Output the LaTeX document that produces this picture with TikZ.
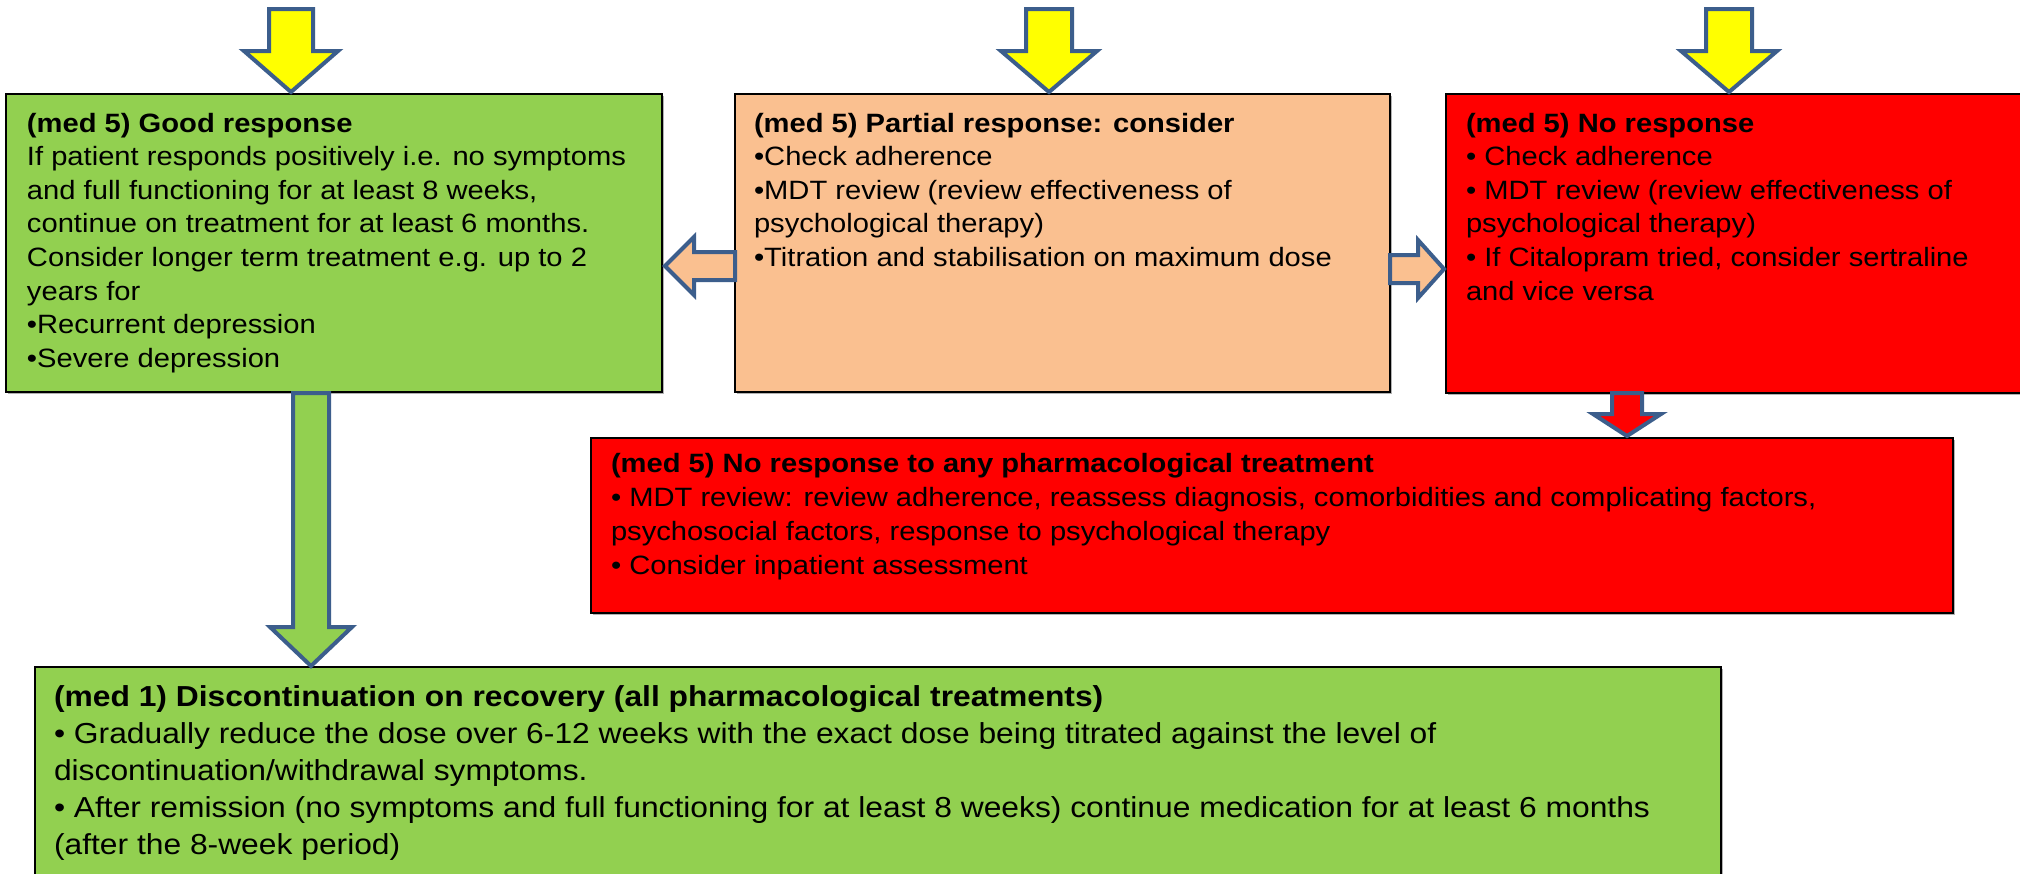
\documentclass[tikz,border=0pt]{standalone}
\usepackage{fontspec}
\setmainfont[FakeStretch=1.1]{Liberation Sans}
\usetikzlibrary{shadows}
\definecolor{gfill}{RGB}{146,208,80}
\definecolor{ofill}{RGB}{250,192,144}
\definecolor{rfill}{RGB}{255,0,0}
\definecolor{yfill}{RGB}{255,255,0}
\definecolor{abl}{RGB}{60,94,140}
\newcommand\firstln{\rule{0pt}{24pt}}
\begin{document}
\begin{tikzpicture}[x=1pt,y=-1pt,
  boxstyle/.style={draw=black, line width=1.3pt, anchor=north west, inner sep=0pt, outer sep=0pt,
    drop shadow={shadow xshift=2pt,shadow yshift=-2pt,fill=black!60,opacity=0.5}},
  blockarrow/.style={draw=abl, line width=4pt, line join=miter, miter limit=10},
  txt/.style={anchor=north west, inner sep=0pt, outer sep=0pt, align=left, font=\fontsize{26.5}{33.6}\selectfont},
  txtbig/.style={txt, font=\fontsize{28.9}{37}\selectfont}]
\useasboundingbox (0,0) rectangle (2020,873);
\clip (0,0) rectangle (2020,873);
\fill[white] (0,0) rectangle (2020,873);

% boxes
\node[boxstyle, fill=gfill, minimum width=656pt, minimum height=298pt] (b1) at (6,94) {};
\node[boxstyle, fill=ofill, minimum width=655pt, minimum height=298pt] (b2) at (735,94) {};
\node[boxstyle, fill=rfill, minimum width=590pt, minimum height=299pt] (b3) at (1446,94) {};
\node[boxstyle, fill=rfill, minimum width=1362pt, minimum height=175pt] (b4) at (591,438) {};
\node[boxstyle, fill=gfill, minimum width=1686pt, minimum height=220pt] (b5) at (35,667) {};

% texts
\node[txt] (t1) at (27,132-24) {\firstln\textbf{(med 5) Good response}\\
If patient responds positively i.e. no symptoms\\
and full functioning for at least 8 weeks,\\
continue on treatment for at least 6 months.\\
Consider longer term treatment e.g. up to 2\\
years for\\
•Recurrent depression\\
•Severe depression};

\node[txt] (t2) at (754,132-24) {\firstln\textbf{(med 5) Partial response: consider}\\
•Check adherence\\
•MDT review (review effectiveness of\\
psychological therapy)\\
•Titration and stabilisation on maximum dose};

\node[txt] (t3) at (1466,132-24) {\firstln\textbf{(med 5) No response}\\
• Check adherence\\
• MDT review (review effectiveness of\\
psychological therapy)\\
• If Citalopram tried, consider sertraline\\
and vice versa};

\node[txt, font=\fontsize{26.5}{34}\selectfont] (t4) at (611,472-24) {\firstln\textbf{(med 5) No response to any pharmacological treatment}\\
• MDT review: review adherence, reassess diagnosis, comorbidities and complicating factors,\\
psychosocial factors, response to psychological therapy\\
• Consider inpatient assessment};

\node[txtbig] (t5) at (54,706-24) {\firstln\textbf{(med 1) Discontinuation on recovery (all pharmacological treatments)}\\
• Gradually reduce the dose over 6-12 weeks with the exact dose being titrated against the level of\\
discontinuation/withdrawal symptoms.\\
• After remission (no symptoms and full functioning for at least 8 weeks) continue medication for at least 6 months\\
(after the 8-week period)};

% yellow input arrows (free tails)
\coordinate (y1) at (291,9);
\coordinate (y2) at (1049,9);
\coordinate (y3) at (1729,9);
\draw[blockarrow, fill=yfill] (y1) ++(-22,0) -- ++(44,0) -- ++(0,42) -- ++(25,0) -- (291,92) -- (291-47,51) -- ++(25,0) -- cycle;
\draw[blockarrow, fill=yfill] (y2) ++(-23,0) -- ++(46,0) -- ++(0,42) -- ++(25,0) -- (1049,92) -- (1049-48,51) -- ++(25,0) -- cycle;
\draw[blockarrow, fill=yfill] (y3) ++(-23,0) -- ++(46,0) -- ++(0,42) -- ++(25,0) -- (1729,92) -- (1729-48,51) -- ++(25,0) -- cycle;

% orange arrows: partial -> good, partial -> no response
\draw[blockarrow, fill=ofill] (b2.west |- 0,252) -- (694,252) -- (694,237) -- (665,266) -- (694,295) -- (694,280) -- (b2.west |- 0,280) -- cycle;
\draw[blockarrow, fill=ofill] (b2.east |- 0,255) -- (1418,255) -- (1418,240) -- (1444,269) -- (1418,298) -- (1418,283) -- (b2.east |- 0,283) -- cycle;

% red arrow: no response -> no response to any
\draw[blockarrow, fill=rfill] (1612,393) -- (1642,393) -- (1642,414) -- (1661,414) -- (1627,436) -- (1593,414) -- (1612,414) -- cycle;

% green arrow: good response -> discontinuation
\draw[blockarrow, fill=gfill] (293,393) -- (329,393) -- (329,627) -- (352,627) -- (311,666) -- (270,627) -- (293,627) -- cycle;
\end{tikzpicture}
\end{document}
